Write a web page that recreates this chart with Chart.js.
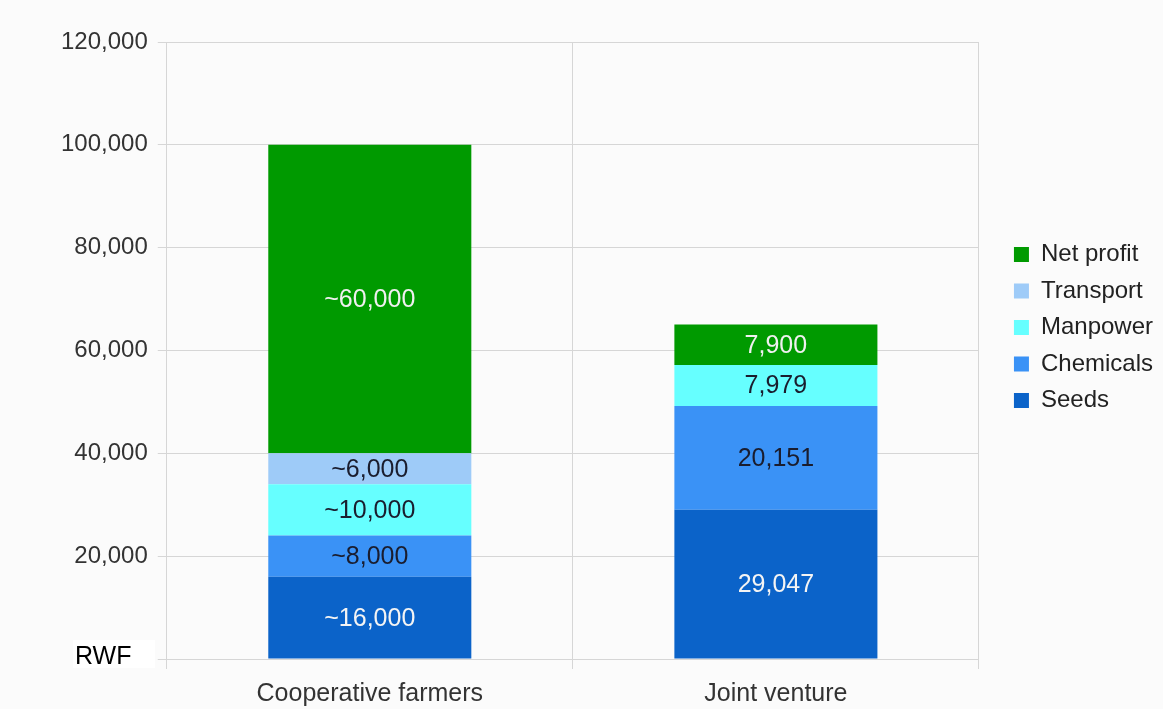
<!DOCTYPE html>
<html>
<head>
<meta charset="utf-8">
<script src="https://cdn.jsdelivr.net/npm/chart.js@4/dist/chart.umd.min.js"></script>
<style>
  html, body { margin: 0; padding: 0; background: #fbfbfb; }
  #wrap { width: 1163px; height: 709px; position: relative; }
</style>
</head>
<body>
<div id="wrap"><canvas id="costChart"></canvas></div>
<script>
const categories = ['Cooperative farmers', 'Joint venture'];
const approxLabels = [true, false]; // cooperative figures are estimates

const seeds = [16000, 29047];
const chemicals = [8000, 20151];
const manpower = [10000, 7979];
const transport = [6000, null];
const netProfit = [60000, 7900];

const yTicks = [0, 20000, 40000, 60000, 80000, 100000, 120000];
const unitLabel = 'RWF';

const FONT = 'Liberation Sans, Arial, sans-serif';

// values written in the middle of every segment
const segmentLabels = {
  id: 'segmentLabels',
  afterDatasetsDraw(chart) {
    const { ctx } = chart;
    ctx.save();
    ctx.font = '25px ' + FONT;
    ctx.textAlign = 'center';
    ctx.textBaseline = 'middle';
    chart.data.datasets.forEach((ds, di) => {
      const meta = chart.getDatasetMeta(di);
      meta.data.forEach((bar, i) => {
        const v = ds.data[i];
        if (v == null) return;
        const txt = (approxLabels[i] ? '~' : '') + v.toLocaleString('en-US');
        ctx.fillStyle = ds.labelColor;
        ctx.fillText(txt, bar.x, (bar.y + bar.base) / 2 + 1);
      });
    });
    ctx.restore();
  }
};

// currency unit in the lower left corner
const unitTag = {
  id: 'unitTag',
  afterDraw(chart) {
    const { ctx } = chart;
    ctx.save();
    ctx.fillStyle = '#ffffff';
    ctx.fillRect(73, 640, 82, 28);
    ctx.fillStyle = '#000000';
    ctx.font = '25px ' + FONT;
    ctx.textBaseline = 'alphabetic';
    ctx.fillText(unitLabel, 75, 664);
    ctx.restore();
  }
};

new Chart(document.getElementById('costChart'), {
  type: 'bar',
  data: {
    labels: categories,
    datasets: [
      { label: 'Seeds', data: seeds, backgroundColor: '#0b63c9', labelColor: '#f4f4f4' },
      { label: 'Chemicals', data: chemicals, backgroundColor: '#3a92f6', labelColor: '#1a1d2e' },
      { label: 'Manpower', data: manpower, backgroundColor: '#66ffff', labelColor: '#1a1d2e' },
      { label: 'Transport', data: transport, backgroundColor: '#9ecbf8', labelColor: '#1a1d2e' },
      { label: 'Net profit', data: netProfit, backgroundColor: '#009a00', labelColor: '#f0f0f0' }
    ]
  },
  options: {
    responsive: true,
    maintainAspectRatio: false,
    animation: false,
    layout: { padding: { top: 42, left: 51, right: 0, bottom: -10 } },
    datasets: {
      bar: { categoryPercentage: 0.5, barPercentage: 1.0, borderWidth: 0 }
    },
    scales: {
      x: {
        stacked: true,
        grid: { color: '#d6d6d6', tickLength: 10, offset: true },
        border: { color: '#d6d6d6' },
        ticks: { color: '#333333', padding: 10, font: { family: FONT, size: 25 } }
      },
      y: {
        stacked: true,
        min: 0,
        max: 120000,
        afterBuildTicks(scale) {
          scale.ticks = yTicks.map(v => ({ value: v }));
        },
        grid: { color: '#d6d6d6', tickLength: 9 },
        border: { color: '#d6d6d6' },
        ticks: {
          color: '#333333',
          padding: 10,
          font: { family: FONT, size: 24 },
          callback: v => v.toLocaleString('en-US')
        }
      },
      gap: {
        position: 'right',
        display: true,
        grid: { display: false },
        border: { display: false },
        ticks: { display: false },
        afterFit(scale) { scale.width = 22.5; }
      }
    },
    plugins: {
      legend: {
        position: 'right',
        align: 'start',
        reverse: true,
        title: { display: true, text: '', padding: 0, font: { size: 12, lineHeight: '188px' } },
        labels: {
          color: '#222222',
          boxWidth: 15,
          boxHeight: 15,
          padding: 12.5,
          font: { family: FONT, size: 24 }
        }
      },
      tooltip: { enabled: false }
    }
  },
  plugins: [segmentLabels, unitTag]
});
</script>
</body>
</html>
